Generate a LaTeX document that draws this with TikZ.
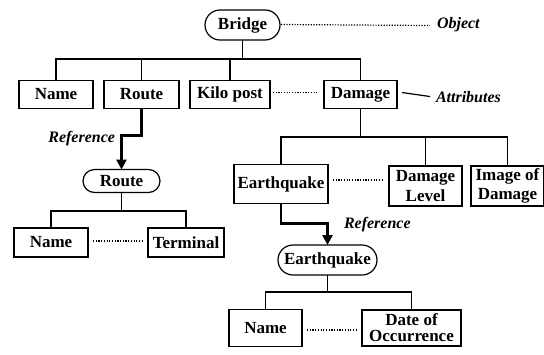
\documentclass[tikz,border=0pt]{standalone}
\usepackage{fontspec}
\setmainfont{Liberation Serif}
\usetikzlibrary{arrows.meta}
\begin{document}
\begin{tikzpicture}[x=1pt,y=-1pt,
  every node/.style={inner sep=0pt, outer sep=0pt},
  lbl/.style={font=\fontsize{17}{19.5}\selectfont\bfseries, align=center},
  attrbox/.style={lbl, draw, line width=1.2pt, rectangle},
  objpill/.style={lbl, draw, line width=1.2pt, rectangle, rounded corners=11.5pt},
  note/.style={font=\fontsize{16}{19}\selectfont\bfseries\itshape, anchor=west},
  tree/.style={line width=1.2pt},
  dotline/.style={line width=1.2pt, dash pattern=on 1.2pt off 1.5pt},
  refarrow/.style={line width=2.6pt, -{Triangle[length=10pt,width=10pt]}}
]
\useasboundingbox (0,0) rectangle (544,354);

% ---- top object: Bridge and its attributes
\node[objpill, minimum width=75pt, minimum height=30pt, rounded corners=15pt] (bridge) at (242.5,25) {Bridge};
\node[attrbox, minimum width=74pt, minimum height=28pt] (name1)  at (56,94.5)    {Name};
\node[attrbox, minimum width=75pt, minimum height=28pt] (route1) at (141.5,94.5) {Route};
\node[attrbox, minimum width=80pt, minimum height=28pt] (kilo)   at (230,94.5)   {Kilo post};
\node[attrbox, minimum width=73pt, minimum height=28pt] (damage) at (360.5,94.5) {Damage};

\coordinate (busA) at (0,59);
\draw[tree] (bridge.south) -- (bridge.south |- busA);
\draw[tree] (name1.north) |- (busA -| damage.north) -- (damage.north);
\draw[tree] (route1.north) -- (route1.north |- busA);
\draw[tree] (kilo.north) -- (kilo.north |- busA);
\draw[dotline] ([xshift=3pt,yshift=2pt]kilo.east) -- ([xshift=-6pt,yshift=2pt]damage.west);

% side labels
\coordinate (objend) at (430,25.5);
\node[note] (objlbl) at (437,25) {Object};
\draw[dotline] ([xshift=1pt,yshift=0.5pt]bridge.east) -- (objend);
\coordinate (attend) at (430,96.5);
\node[note] (attlbl) at (436,97) {Attributes};
\draw[tree] ([xshift=5pt,yshift=2pt]damage.east) -- (attend);

% ---- referenced object: Route
\node[objpill, minimum width=77pt, minimum height=23pt] (route2) at (121.5,181) {Route};
\draw[refarrow] (route1.south) -- ++(0,27) -| (route2.north);
\node[note, anchor=east] (ref1) at (115,139) {Reference};

\node[attrbox, minimum width=74pt, minimum height=29pt] (name2) at (51,242.5)  {Name};
\node[attrbox, minimum width=76pt, minimum height=29pt] (term)  at (186,242.5) {Terminal};
\coordinate (busB) at (0,211);
\draw[tree] (route2.south) -- (route2.south |- busB);
\draw[tree] (name2.north) |- (busB -| term.north) -- (term.north);
\draw[dotline] ([xshift=5pt,yshift=1.5pt]name2.east) -- ([xshift=-5pt,yshift=1.5pt]term.west);

% ---- attributes of Damage
\node[attrbox, minimum width=94pt, minimum height=39pt] (eq1)    at (281,184)   {Earthquake};
\node[attrbox, minimum width=73pt, minimum height=40pt] (dlevel) at (425.5,186) {Damage\\Level};
\node[attrbox, minimum width=73pt, minimum height=40pt] (image)  at (507.5,186) {Image of\\Damage};
\coordinate (busC) at (0,137);
\draw[tree] (damage.south) -- (damage.south |- busC);
\draw[tree] (eq1.north) |- (busC -| image.north) -- (image.north);
\draw[tree] (dlevel.north) -- (dlevel.north |- busC);
\coordinate (dotC) at (0,180);
\draw[dotline] ([xshift=5pt]eq1.east |- dotC) -- ([xshift=-5pt]dlevel.west |- dotC);

% ---- referenced object: Earthquake
\node[objpill, minimum width=99pt, minimum height=30pt, rounded corners=15pt] (eq2) at (327.5,260) {Earthquake};
\draw[refarrow] (eq1.south) -- ++(0,20) -| (eq2.north);
\node[note] (ref2) at (344,225) {Reference};

\node[attrbox, minimum width=73pt, minimum height=37pt] (name3) at (265.5,328) {Name};
\node[attrbox, minimum width=99pt, minimum height=36pt, font=\fontsize{17}{16}\selectfont\bfseries] (date) at (411.5,328) {Date of\\Occurrence};
\coordinate (busD) at (0,292);
\draw[tree] (eq2.south) -- (eq2.south |- busD);
\draw[tree] (name3.north) |- (busD -| date.north) -- (date.north);
\draw[dotline] ([xshift=5pt,yshift=-2pt]name3.east) -- ([xshift=-5pt,yshift=-2pt]date.west);
\end{tikzpicture}
\end{document}
